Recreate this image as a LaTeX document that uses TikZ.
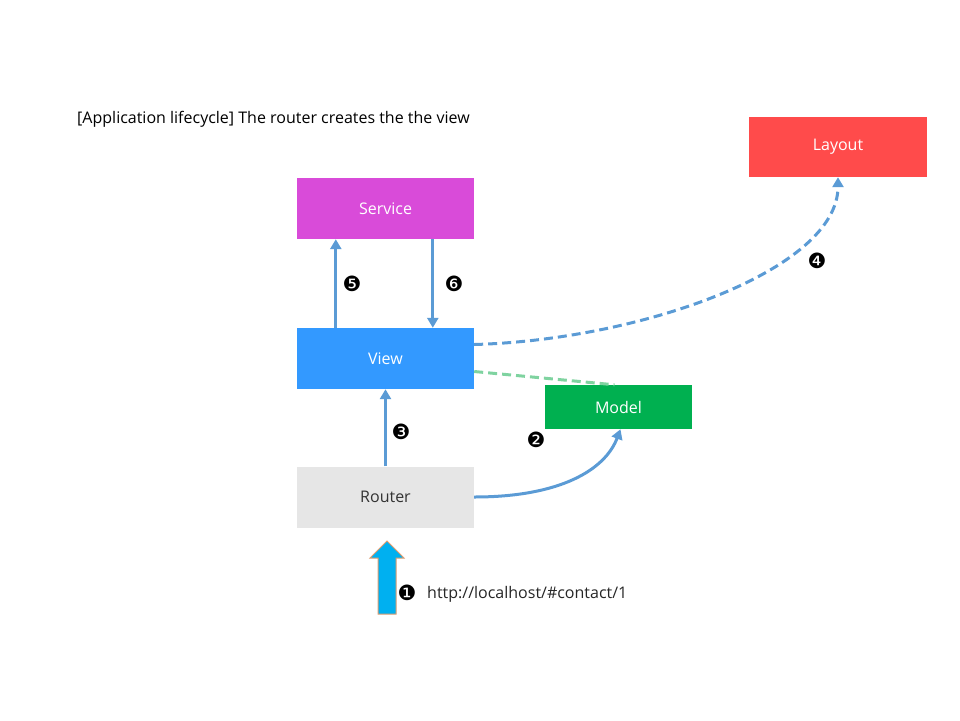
\documentclass[tikz,border=0pt]{standalone}
\usepackage{fontspec}
\setmainfont{Open Sans}
\newfontfamily\numfont{DejaVu Sans}
\usetikzlibrary{arrows.meta,calc}

\definecolor{linkblue}{HTML}{5B9BD5}
\definecolor{modelgreen}{HTML}{00B050}
\definecolor{viewblue}{HTML}{3399FF}
\definecolor{servicepink}{HTML}{D94BD9}
\definecolor{layoutred}{HTML}{FF4B4B}
\definecolor{routergray}{HTML}{E6E6E6}
\definecolor{dashgreen}{HTML}{7FD3A0}
\definecolor{urlblue}{HTML}{00B0F0}
\definecolor{urledge}{HTML}{C55A11}

\tikzset{
	box/.style={minimum width=177pt,minimum height=61pt,inner sep=0pt,text=white,font=\fontsize{16}{19}\selectfont},
	link/.style={draw=linkblue,line width=3pt,-{Triangle[length=10pt,width=11pt]}},
	num/.style={font=\numfont\fontsize{21}{24}\selectfont,inner sep=0pt}
}

\begin{document}
\begin{tikzpicture}[x=1pt,y=-1pt]

			\useasboundingbox (0,0) rectangle (960,720);

			\node[anchor=west,inner sep=0pt,font=\fontsize{16}{19}\selectfont] (title) at (77,119) {[Application lifecycle] The router creates the the view};

			\node[box,fill=layoutred,minimum width=178pt,minimum height=60pt] (layout) at (838,147) {Layout};
			\node[box,fill=servicepink] (service) at (385.5,208.5) {Service};
			\node[box,fill=viewblue] (view) at (385.5,358.5) {View};
			\node[box,fill=modelgreen,minimum width=147pt,minimum height=44pt] (model) at (618.5,407) {Model};
			\node[box,fill=routergray,text=black!80] (router) at (385.5,497) {Router};

			% view <-> service
			\draw[link] (view.south west) ++(39,-61) coordinate (v5) -- (v5 |- service.south);
			\draw[link] (service.south west) ++(136,0) coordinate (s6) -- (s6 |- view.north);
			% router -> view
			\draw[link] (router.north) -- (view.south);
			% view -> layout
			\draw[link,dashed,dash pattern=on 9pt off 5pt] (view.east) ++(0,-14) coordinate (v4) .. controls (640,340) and (838,270) .. (layout.south);
			\draw[draw=dashgreen,line width=3pt,dash pattern=on 9pt off 5pt] (view.east) ++(0,13) -- ($(model.north)+(-4,0)$);
			% router -> model
			\draw[link] (router.east) .. controls (560,497) and (605,470) .. ($(model.south)+(2,0)$);

			% incoming url
			\draw[fill=urlblue,draw=urledge!60,line width=1pt] (378,614) coordinate (u1) -- (378,558) -- (370,558) -- (387,541) -- (404,558) -- (396,558) -- (396,614) -- cycle;
			\node[anchor=west,inner sep=0pt,font=\fontsize{16}{19}\selectfont,text=black!85] (url) at (427,594) {http://localhost/\#contact/1};

			\node[num] (n1) at (407,593) {❶};
			\node[num] (n2) at (536,440) {❷};
			\node[num] (n3) at (401,432) {❸};
			\node[num] (n4) at (817,261) {❹};
			\node[num] (n5) at (352,284) {❺};
			\node[num] (n6) at (454,284) {❻};

		\end{tikzpicture}
\end{document}
